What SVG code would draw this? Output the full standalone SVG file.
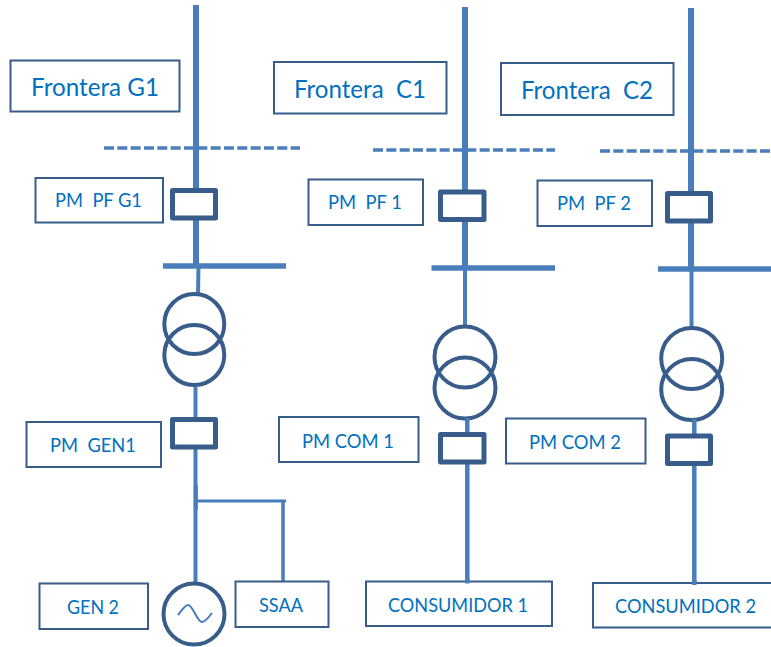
<svg xmlns="http://www.w3.org/2000/svg" width="771" height="647" viewBox="0 0 771 647">
<style>
.box{fill:#fff;stroke:#385d8a;stroke-width:2}
.t{font-family:Lato,"Open Sans",sans-serif;fill:#0070c0;white-space:pre}
.big{font-size:25.500px}
.small{font-size:19px}
.ln{stroke:#4a7ebb;fill:none}
.dash{stroke:#4a7ebb;stroke-width:3.5;stroke-dasharray:10 3.33;fill:none}
.bus{stroke:#4a7ebb;stroke-width:5.5;fill:none}
.brk{fill:#fff;stroke:#385d8a;stroke-width:5;stroke-linejoin:round}
.xf{fill:none;stroke:#385d8a;stroke-width:4}
</style>
<g id="connectors">
<path class="ln" stroke-width="6" d="M196 5V265M465 7V268M691 8V269"/>
<path class="dash" d="M104 148H300M373 150H555M600 151H771"/>
<path class="bus" d="M163 266H286M431.500 268H555M658 269H771"/>
<path class="ln" stroke-width="4" d="M198.500 266L198 295M465 268V326M691.500 269V327M195.500 387V418M195.500 449V582"/>
<path class="ln" stroke-width="4" d="M195.800 485V510"/>
<path class="ln" stroke-width="3" d="M196 501H286"/>
<path class="ln" stroke-width="3.500" d="M283 501V583"/>
</g>
<g id="frontera-g1"><rect class="box" x="10.500" y="60.500" width="169" height="51"/><text class="t big" x="31" y="96" textLength="128" lengthAdjust="spacingAndGlyphs">Frontera G1</text></g>
<g id="frontera-c1"><rect class="box" x="274" y="62" width="172.500" height="51.500"/><text class="t big" x="294" y="98" textLength="132" lengthAdjust="spacingAndGlyphs">Frontera  C1</text></g>
<g id="frontera-c2"><rect class="box" x="501" y="63" width="172.500" height="52"/><text class="t big" x="521" y="99" textLength="132" lengthAdjust="spacingAndGlyphs">Frontera  C2</text></g>
<g id="pm-pf-g1"><rect class="box" x="35.500" y="178" width="127.500" height="44.500"/><text class="t small" x="55" y="207" textLength="87" lengthAdjust="spacingAndGlyphs">PM  PF G1</text></g>
<g id="pm-pf-1"><rect class="box" x="308.500" y="179.500" width="114.500" height="45.500"/><text class="t small" x="328" y="209" textLength="74" lengthAdjust="spacingAndGlyphs">PM  PF 1</text></g>
<g id="pm-pf-2"><rect class="box" x="537.500" y="180.500" width="114.500" height="45.500"/><text class="t small" x="557" y="210" textLength="74" lengthAdjust="spacingAndGlyphs">PM  PF 2</text></g>
<g id="breaker-pf-g1"><rect class="brk" x="172.500" y="190.500" width="43" height="27.500"/></g>
<g id="breaker-pf-1"><rect class="brk" x="440.500" y="192" width="43.500" height="27.500"/></g>
<g id="breaker-pf-2"><rect class="brk" x="667.500" y="193.500" width="43" height="27.500"/></g>
<g id="transformer-g1"><circle class="xf" cx="194.300" cy="324" r="30"/><circle class="xf" cx="194.300" cy="355" r="30"/></g>
<g id="transformer-c1"><circle class="xf" cx="465" cy="357" r="30.500"/><circle class="xf" cx="465" cy="388" r="30.500"/></g>
<g id="transformer-c2"><circle class="xf" cx="691.700" cy="358.500" r="30.500"/><circle class="xf" cx="691.700" cy="389.500" r="30.500"/></g>
<g id="pm-gen1"><rect class="box" x="26.500" y="422" width="134.500" height="45"/><text class="t small" x="50" y="452" textLength="86" lengthAdjust="spacingAndGlyphs">PM  GEN1</text></g>
<g id="pm-com-1"><rect class="box" x="279" y="417" width="139.500" height="45"/><text class="t small" x="302" y="448" textLength="92" lengthAdjust="spacingAndGlyphs">PM COM 1</text></g>
<g id="pm-com-2"><rect class="box" x="506" y="418.500" width="139.500" height="45"/><text class="t small" x="529" y="449" textLength="92" lengthAdjust="spacingAndGlyphs">PM COM 2</text></g>
<g id="breaker-gen1"><rect class="brk" x="172.500" y="419.500" width="43" height="27.500"/></g>
<g id="breaker-com-1"><path class="ln" stroke-width="4.500" d="M467.300 418V434M467.300 464V582"/><rect class="brk" x="440.500" y="434.500" width="43.500" height="27.500"/></g>
<g id="breaker-com-2"><path class="ln" stroke-width="4.500" d="M694.300 419V435M694.300 465V584"/><rect class="brk" x="667.500" y="436" width="43" height="27.500"/></g>
<g id="gen-2"><rect class="box" x="39.500" y="583.500" width="108.500" height="45.500"/><text class="t small" x="67" y="614" textLength="52" lengthAdjust="spacingAndGlyphs">GEN 2</text></g>
<g id="generator"><circle class="xf" cx="194" cy="614" r="30.500" fill="#fff"/><path class="ln" stroke-width="2" d="M178 615C183 609 185 605 188 605C193 605 197 622 202 622C205 622 209 617 212 613"/></g>
<g id="ssaa"><rect class="box" x="235.500" y="581.500" width="93" height="45.500"/><text class="t small" x="259" y="612" textLength="44" lengthAdjust="spacingAndGlyphs">SSAA</text></g>
<g id="consumidor-1"><rect class="box" x="366" y="581.500" width="186" height="44.500"/><path class="ln" stroke-width="4.500" d="M467.300 578V583.500"/><text class="t small" x="388" y="612" textLength="140" lengthAdjust="spacingAndGlyphs">CONSUMIDOR 1</text></g>
<g id="consumidor-2"><rect class="box" x="593" y="583" width="190" height="44.500"/><path class="ln" stroke-width="4.500" d="M694.300 580V585"/><text class="t small" x="615" y="613" textLength="141" lengthAdjust="spacingAndGlyphs">CONSUMIDOR 2</text></g>
</svg>
